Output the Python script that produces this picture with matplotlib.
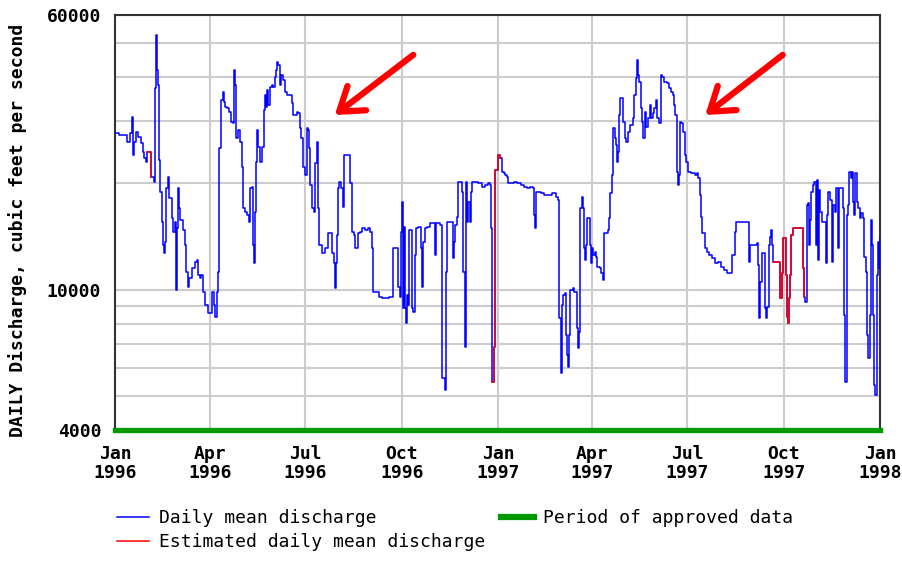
import numpy as np
import pandas as pd
import matplotlib
matplotlib.use('Agg')
import matplotlib.pyplot as plt
import matplotlib.dates as mdates
from matplotlib.lines import Line2D

# daily mean discharge (day number from 1996-01-01, cfs)
start = pd.Timestamp('1996-01-01')
days = [0, 4, 11, 14, 16, 17, 18, 20, 22, 25, 27, 28, 30, 31, 34, 37, 38, 39, 40, 41,
        42, 43, 45, 46, 47, 48, 49, 51, 52, 54, 55, 57, 58, 59, 60, 61, 62, 65, 67, 68,
        70, 71, 74, 76, 78, 79, 81, 82, 84, 86, 89, 93, 95, 96, 97, 98, 99, 101, 103, 104,
        105, 107, 109, 111, 113, 114, 115, 116, 118, 119, 121, 122, 124, 126, 128, 129, 131, 132, 133, 134,
        135, 136, 137, 139, 140, 142, 143, 144, 145, 146, 148, 150, 151, 153, 154, 155, 156, 158, 159, 161,
        162, 164, 169, 170, 174, 175, 177, 178, 180, 182, 183, 184, 185, 186, 188, 190, 191, 193, 194, 195,
        198, 201, 204, 207, 209, 210, 211, 212, 213, 214, 216, 218, 219, 225, 226, 228, 229, 232, 234, 236,
        239, 242, 244, 246, 247, 252, 255, 258, 262, 266, 270, 272, 273, 274, 275, 276, 277, 278, 279, 280,
        281, 284, 285, 287, 288, 290, 292, 293, 294, 296, 298, 301, 306, 307, 311, 312, 315, 316, 317, 323,
        324, 325, 327, 328, 332, 333, 334, 335, 336, 337, 339, 340, 341, 347, 351, 354, 356, 358, 359, 360,
        362, 363, 366, 368, 370, 372, 373, 375, 376, 381, 384, 388, 391, 394, 397, 399, 400, 401, 402, 407,
        410, 418, 421, 423, 424, 426, 427, 428, 430, 431, 432, 433, 434, 435, 438, 439, 441, 442, 443, 444,
        446, 447, 448, 449, 450, 451, 454, 455, 456, 457, 459, 460, 461, 463, 464, 466, 467, 471, 472, 473,
        475, 476, 478, 479, 480, 481, 482, 483, 485, 487, 488, 490, 492, 495, 496, 498, 499, 500, 501, 503,
        504, 505, 506, 507, 509, 511, 512, 514, 515, 517, 518, 520, 522, 523, 525, 527, 529, 531, 533, 534,
        535, 537, 538, 539, 540, 541, 543, 545, 546, 548, 550, 554, 556, 557, 559, 560, 561, 564, 566, 568,
        570, 573, 576, 579, 582, 585, 590, 592, 593, 606, 607, 613, 614, 615, 616, 618, 621, 622, 623, 625,
        626, 627, 628, 629, 635, 637, 638, 641, 642, 643, 644, 645, 646, 648, 657, 658, 659, 661, 662, 663,
        664, 665, 667, 668, 670, 671, 672, 673, 674, 676, 679, 680, 681, 683, 685, 686, 688, 689, 691, 692,
        696, 697, 698, 699, 700, 701, 703, 704, 705, 706, 707, 709, 710, 712, 713, 715, 716, 718, 719, 720,
        721, 722, 723, 724, 725, 726, 728, 729, 730, 731]
flow = [27720, 27420, 26250, 27720, 30910, 24070, 26250, 28030, 27120, 25970, 24590, 23550, 23040, 24590, 20890, 20230, 37180, 52660, 41900, 38000,
        23290, 18950, 15580, 13380, 12670, 13670, 19360, 20890, 18140, 15920, 14590, 15580, 9970, 14920, 19360, 16990, 15750, 14750, 13380, 11240,
        10190, 10760, 11490, 12000, 12130, 11000, 10760, 11000, 9870, 9040, 8560, 9870, 9040, 8380, 9870, 11240, 25140, 34450, 36380, 34080,
        32990, 32630, 31930, 29910, 29590, 41900, 38000, 26830, 28330, 26250, 22300, 16990, 16630, 16270, 15580, 19360, 19580, 13380, 11870, 16630,
        23040, 28330, 25410, 23040, 25410, 32280, 35600, 32990, 36780, 33350, 37590, 38000, 37590, 40120, 41900, 44240, 43300, 38000, 40560, 39260,
        36380, 35600, 33710, 31240, 31930, 31590, 28640, 26830, 22300, 21120, 28640, 28330, 25140, 19790, 16990, 16630, 22790, 26250, 16990, 13380,
        12670, 13090, 14440, 12670, 11870, 10080, 11870, 14280, 19360, 20230, 19360, 17180, 24070, 20010, 14590, 14280, 13090, 14440, 14590, 14920,
        14750, 14920, 14590, 13090, 9870, 9550, 9440, 9490, 9550, 13090, 10190, 9550, 14590, 17750, 8850, 15080, 8850, 8020, 9650, 9040,
        14750, 8850, 8660, 12530, 14920, 15080, 13090, 10190, 13670, 14920, 15080, 15410, 12530, 15410, 15240, 5600, 5190, 11240, 15580, 12260,
        13670, 15240, 16090, 20230, 18950, 11240, 6890, 20230, 15580, 17750, 15580, 18950, 20230, 20010, 19580, 19790, 20010, 19790, 14900, 5480,
        6890, 21800, 24060, 23550, 21590, 21350, 21120, 20890, 20010, 20230, 20010, 19790, 19580, 19360, 19580, 19360, 16270, 14920, 18950, 18740,
        18540, 18740, 18340, 17950, 8290, 5790, 9040, 9650, 9760, 7440, 6530, 6050, 7440, 9970, 10080, 9870, 7770, 6820, 7600, 16990,
        18340, 16990, 13090, 12130, 13380, 15920, 13380, 11870, 13090, 12530, 12810, 12400, 11610, 11490, 11120, 10650, 14440, 14750, 15920, 18740,
        21120, 28640, 26830, 25690, 23040, 24590, 31240, 34830, 29910, 26830, 26250, 28030, 29270, 30570, 35600, 39690, 44730, 40560, 38840, 32630,
        29910, 26830, 31930, 28950, 30570, 33350, 30570, 31590, 32630, 34450, 30570, 29590, 40560, 40120, 38840, 38420, 37180, 36380, 35600, 33350,
        31240, 21590, 19790, 21120, 29910, 29590, 28030, 24070, 23040, 21590, 21350, 21120, 21350, 20670, 18540, 16090, 14440, 13090, 12810, 12530,
        12260, 11870, 12000, 11610, 11370, 11120, 12530, 14590, 15580, 12000, 13380, 13520, 11740, 8290, 10530, 12670, 8850, 8290, 8940, 13380,
        14130, 14750, 13380, 12000, 9440, 11120, 13970, 11000, 8380, 8020, 9440, 11000, 14280, 14920, 11490, 9550, 9240, 17370, 17560, 13380,
        15750, 18950, 19790, 20230, 13380, 20450, 12130, 19150, 16630, 15580, 11870, 16270, 18950, 17950, 12000, 17370, 16630, 19360, 13090, 19360,
        16990, 8470, 5480, 16270, 17370, 21590, 20670, 21590, 17750, 16270, 21350, 17750, 16990, 15920, 16450, 15920, 12400, 11240, 7440, 6390,
        8470, 15750, 13380, 8470, 5370, 5030, 11000, 13670, 11490, 13970]
# estimated periods (day ranges, inclusive)
est_periods = [(31, 34), (360, 368), (629, 658)]
approved = ['1996-01-01', '1998-01-01']

yticks = [4000, 10000, 60000]
ygrid = [5000, 6000, 7000, 8000, 9000, 20000, 30000, 40000, 50000]

# arrows: (tip day, tip cfs, tail day, tail cfs)
arrows = [(210, 31240, 285, 46250), (564, 31240, 638, 46250)]

font = 'DejaVu Sans Mono'
plt.rcParams['font.family'] = font

days = np.array(days)
flow = np.array(flow)
dates = start + pd.to_timedelta(days, unit='D')

fig = plt.figure(figsize=(9.03, 5.63), dpi=100)
ax = fig.add_axes([115 / 903, 1 - 430 / 563, 765 / 903, 415 / 563])

ax.plot(dates, flow, color='#0000ff', lw=1.1, drawstyle='steps-post', zorder=3)
for a, b in est_periods:
    m = (days >= a) & (days <= b)
    ax.plot(dates[m], flow[m], color='#ff0000', lw=1.1, drawstyle='steps-post', zorder=4)

ax.plot(pd.to_datetime(approved), [4000, 4000], color='#009900', lw=3.8,
        solid_capstyle='projecting', clip_on=False, zorder=5)

ax.set_yscale('log')
ax.set_ylim(4000, 60000)
ax.set_xlim(pd.Timestamp(approved[0]), pd.Timestamp(approved[1]))

ax.set_yticks(yticks)
ax.set_yticklabels([str(v) for v in yticks], fontsize=13, fontweight='bold')
ax.set_yticks(ygrid, minor=True)
ax.yaxis.set_minor_formatter(plt.NullFormatter())

xt = pd.date_range(approved[0], approved[1], freq='QS')
ax.set_xticks(xt)
ax.set_xticklabels([d.strftime('%b\n%Y') for d in xt], fontsize=13, fontweight='bold', linespacing=1.05)

ax.tick_params(which='both', length=0)
ax.tick_params(axis='y', pad=10)
ax.tick_params(axis='x', pad=11)
ax.grid(True, which='both', color='#cccccc', lw=1.5, zorder=0)
ax.set_axisbelow(True)
for s in ax.spines.values():
    s.set_color('#333333')
    s.set_linewidth(1.5)

ax.set_ylabel('DAILY Discharge, cubic feet per second', fontsize=13, fontweight='bold')
ax.yaxis.set_label_coords(-0.115, 0.482)

for tx, ty, sx, sy in arrows:
    ax.annotate('', xy=(mdates.date2num(start + pd.Timedelta(days=tx)), ty),
                xytext=(mdates.date2num(start + pd.Timedelta(days=sx)), sy),
                arrowprops=dict(arrowstyle='->,head_length=0.8,head_width=0.55', color='#ff0000',
                                lw=4.5, mutation_scale=20, shrinkA=0, shrinkB=0), zorder=6)

handles = [Line2D([], [], color='#0000ff', lw=1.1),
           Line2D([], [], color='#ff0000', lw=1.1),
           Line2D([], [], color='#009900', lw=4.5)]
labels = ['Daily mean discharge', 'Estimated daily mean discharge', 'Period of approved data']
fig.legend(handles, labels, ncol=2, loc='upper left', bbox_to_anchor=(117 / 903, 1 - 509 / 563),
           frameon=False, prop={'family': font, 'size': 13}, handlelength=1.8,
           handletextpad=0.5, columnspacing=0.9, labelspacing=0.35, borderpad=0, borderaxespad=0)

fig.savefig('out.png', dpi=100)
